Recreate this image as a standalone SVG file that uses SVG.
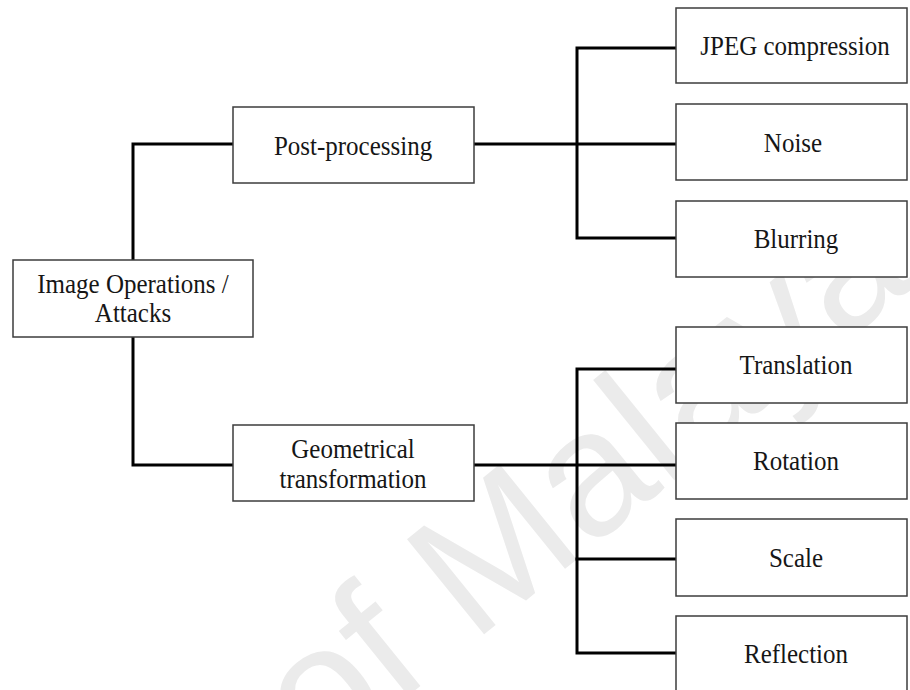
<svg xmlns="http://www.w3.org/2000/svg" width="910" height="690" viewBox="0 0 910 690">
<style>
.box{fill:#ffffff;stroke:#3c3c3c;stroke-width:1.5}
.lbl{font-family:"Liberation Serif","Times New Roman",serif;font-size:25px;fill:#161616;text-anchor:middle}
.con{fill:none;stroke:#000;stroke-width:3;stroke-linejoin:miter;stroke-linecap:square}
.wm{font-family:"Liberation Sans",Arial,sans-serif;font-size:178px;fill:#ebebeb}
</style>
<rect x="0" y="0" width="910" height="690" fill="#ffffff"/>
<text class="wm" transform="translate(319,768) rotate(-39)">of Malaya</text>
<g id="connectors">
<path class="con" d="M233,144 H133 V260"/>
<path class="con" d="M133,337 V465 H233"/>
<path class="con" d="M474,144 H676"/>
<path class="con" d="M676,48 H577 V238 H676"/>
<path class="con" d="M474,465 H676"/>
<path class="con" d="M676,369 H577 V653 H676"/>
<path class="con" d="M577,559 H676"/>
</g>
<g id="root"><rect class="box" x="13" y="260" width="240" height="77"/><text class="lbl" transform="translate(133,293) scale(1,1.1)">Image Operations /</text><text class="lbl" transform="translate(133,322) scale(1,1.1)">Attacks</text></g>
<g id="post"><rect class="box" x="233" y="107" width="241" height="76"/><text class="lbl" transform="translate(353,155) scale(1,1.1)">Post-processing</text></g>
<g id="geom"><rect class="box" x="233" y="425" width="241" height="76"/><text class="lbl" transform="translate(353,458) scale(1,1.1)">Geometrical</text><text class="lbl" transform="translate(353,488) scale(1,1.1)">transformation</text></g>
<g id="jpeg"><rect class="box" x="676" y="8" width="231" height="75"/><text class="lbl" transform="translate(795,55) scale(1,1.1)">JPEG compression</text></g>
<g id="noise"><rect class="box" x="676" y="104" width="231" height="76"/><text class="lbl" transform="translate(793,152) scale(1,1.1)">Noise</text></g>
<g id="blur"><rect class="box" x="676" y="201" width="231" height="76"/><text class="lbl" transform="translate(796,248) scale(1,1.1)">Blurring</text></g>
<g id="trans"><rect class="box" x="676" y="327" width="231" height="76"/><text class="lbl" transform="translate(796,374) scale(1,1.1)">Translation</text></g>
<g id="rot"><rect class="box" x="676" y="423" width="231" height="76"/><text class="lbl" transform="translate(796,470) scale(1,1.1)">Rotation</text></g>
<g id="scale"><rect class="box" x="676" y="519" width="231" height="77"/><text class="lbl" transform="translate(796,567) scale(1,1.1)">Scale</text></g>
<g id="refl"><rect class="box" x="676" y="616" width="231" height="90"/><text class="lbl" transform="translate(796,663) scale(1,1.1)">Reflection</text></g>
</svg>
